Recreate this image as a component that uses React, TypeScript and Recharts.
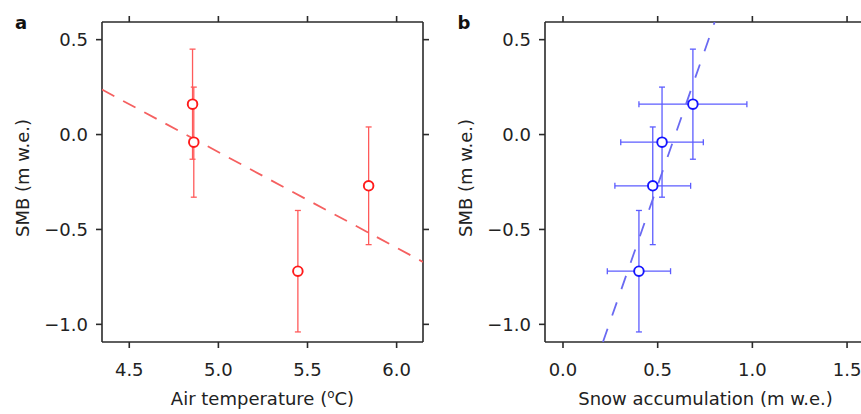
import React from 'react';
import { ScatterChart, Scatter, XAxis, YAxis, ErrorBar } from 'recharts';

// SMB of the four years, shared by both panels
const smbValues = [0.16, -0.04, -0.72, -0.27];
const smbErrors = [0.29, 0.29, 0.32, 0.31];

// panel a
const airTemp = [4.855, 4.862, 5.446, 5.843];
const airTempFit = [
  { x: 4.347, y: 0.237 },
  { x: 6.148, y: -0.671 },
];

// panel b
const snowAcc = [0.686, 0.523, 0.401, 0.474];
const snowErrors = [0.285, 0.218, 0.167, 0.2];
const snowFit = [
  { x: 0.211, y: -1.093 },
  { x: 0.801, y: 0.593 },
];

const smbTicks = [-1.0, -0.5, 0.0, 0.5];
const smbDomain = [-1.093, 0.593];
const airTempTicks = [4.5, 5.0, 5.5, 6.0];
const airTempDomain = [4.347, 6.148];
const snowTicks = [0.0, 0.5, 1.0, 1.5];
const snowDomain = [-0.095, 1.6];

const FONT = 'DejaVu Sans';
const AXIS = '#2a2a2a';
const tickStyle = { fill: '#222', fontSize: 18, fontFamily: FONT };
const noLabel = () => '';

const fmt = (v: number) => (v < 0 ? '\u2212' : '') + Math.abs(v).toFixed(1);

const dataA = airTemp.map((x, i) => ({ x, y: smbValues[i], ey: smbErrors[i] }));
const dataB = snowAcc.map((x, i) => ({ x, y: smbValues[i], ex: snowErrors[i], ey: smbErrors[i] }));

function Panel({ letter, data, xDomain, xTicks, xTitle, fit, color, barColor, fitColor, dash, xErrors }: any) {
  const circle = (p: any) => (
    <circle cx={p.cx} cy={p.cy} r={4.8} fill="#fff" stroke={color} strokeWidth={1.9} />
  );
  return (
    <ScatterChart width={433} height={414} margin={{ top: 12, right: 0, left: 0, bottom: 0 }}>
      <XAxis
        dataKey="x"
        type="number"
        domain={xDomain}
        ticks={xTicks}
        allowDataOverflow
        interval={0}
        tickFormatter={fmt}
        tickSize={6}
        tickMargin={15}
        height={72}
        stroke={AXIS}
        strokeWidth={1.6}
        tick={tickStyle}
        label={{
          content: ({ viewBox }: any) => (
            <text x={viewBox.x + viewBox.width / 2} y={viewBox.y + 63} textAnchor="middle" fontSize={18} fontFamily={FONT} fill="#222">
              {xTitle}
            </text>
          ),
        }}
      />
      <XAxis
        xAxisId="top"
        orientation="top"
        dataKey="x"
        type="number"
        domain={xDomain}
        ticks={xTicks}
        allowDataOverflow
        interval={0}
        tickFormatter={noLabel}
        tick={tickStyle}
        tickSize={6}
        height={10}
        stroke={AXIS}
        strokeWidth={1.6}
        label={{
          content: ({ viewBox }: any) => (
            <text x={viewBox.x - 81} y={viewBox.y + 17} textAnchor="middle" fontSize={18} fontWeight="bold" fontFamily={FONT} fill="#111">
              {letter}
            </text>
          ),
        }}
      />
      <YAxis
        dataKey="y"
        type="number"
        domain={smbDomain}
        ticks={smbTicks}
        allowDataOverflow
        interval={0}
        tickFormatter={fmt}
        tickSize={6}
        tickMargin={8}
        width={102}
        stroke={AXIS}
        strokeWidth={1.6}
        tick={tickStyle}
        label={{
          content: ({ viewBox }: any) => {
            const cx = viewBox.x + viewBox.width - 80;
            const cy = viewBox.y + viewBox.height / 2 - 4;
            return (
              <text x={cx} y={cy} transform={`rotate(-90, ${cx}, ${cy})`} textAnchor="middle" dominantBaseline="central" fontSize={18} fontFamily={FONT} fill="#222">
                SMB (m w.e.)
              </text>
            );
          },
        }}
      />
      <YAxis
        yAxisId="right"
        orientation="right"
        dataKey="y"
        type="number"
        domain={smbDomain}
        ticks={smbTicks}
        allowDataOverflow
        interval={0}
        tickFormatter={noLabel}
        tick={tickStyle}
        tickSize={6}
        width={10}
        stroke={AXIS}
        strokeWidth={1.6}
      />
      {/* regression line, drawn on the top/right axes (same scales) */}
      <Scatter
        data={fit}
        xAxisId="top"
        yAxisId="right"
        line={{ stroke: fitColor, strokeWidth: 1.8, strokeDasharray: dash }}
        lineType="joint"
        shape={() => <g />}
        isAnimationActive={false}
      />
      <Scatter data={data} shape={circle} isAnimationActive={false}>
        {xErrors && <ErrorBar dataKey="ex" direction="x" width={3} stroke={barColor} strokeWidth={1.3} />}
        <ErrorBar dataKey="ey" direction="y" width={3} stroke={barColor} strokeWidth={1.3} />
      </Scatter>
    </ScatterChart>
  );
}

export default function App() {
  return (
    <div style={{ position: 'fixed', left: 0, top: 0, width: 861, height: 414, overflow: 'hidden', background: '#fff' }}>
      <div style={{ position: 'absolute', left: 0, top: 0 }}>
        <Panel
          letter="a"
          data={dataA}
          xDomain={airTempDomain}
          xTicks={airTempTicks}
          xTitle={
            <>
              Air temperature (<tspan dy={-7} fontSize={12}>o</tspan>
              <tspan dy={7}>C)</tspan>
            </>
          }
          fit={airTempFit}
          color="#ff1a1a"
          barColor="#ff5a5a"
          fitColor="#f56060"
          dash="14 10"
          xErrors={false}
        />
      </div>
      <div style={{ position: 'absolute', left: 443, top: 0 }}>
        <Panel
          letter="b"
          data={dataB}
          xDomain={snowDomain}
          xTicks={snowTicks}
          xTitle="Snow accumulation (m w.e.)"
          fit={snowFit}
          color="#1515ff"
          barColor="#5c5cff"
          fitColor="#6a6af2"
          dash="14 14"
          xErrors
        />
      </div>
    </div>
  );
}
